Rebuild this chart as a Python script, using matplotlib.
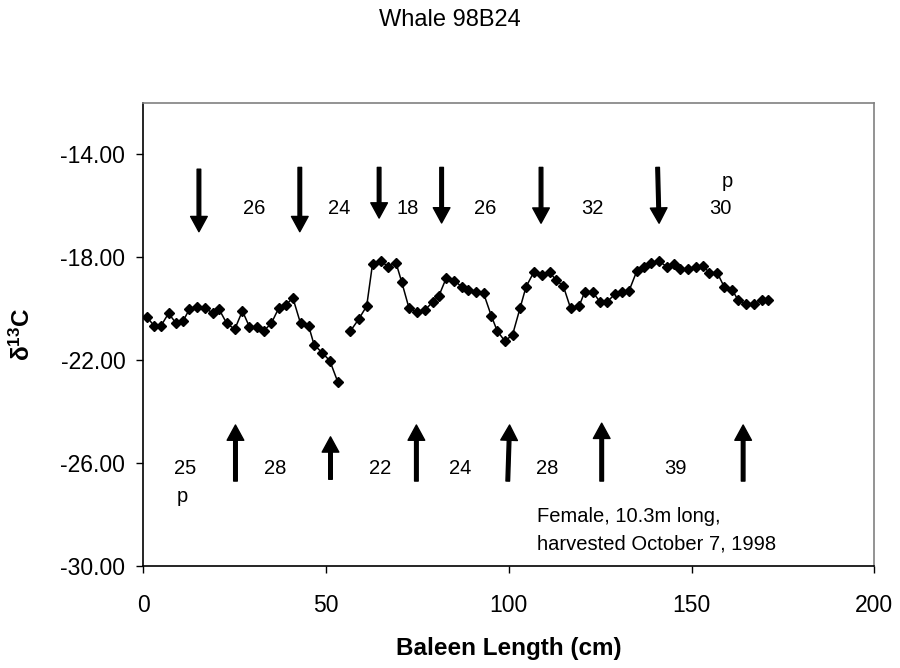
import matplotlib
matplotlib.use("Agg")
import matplotlib.pyplot as plt

plt.rcParams["font.family"] = ["Liberation Sans", "DejaVu Sans"]
plt.rcParams["mathtext.fontset"] = "custom"
plt.rcParams["mathtext.rm"] = "Liberation Sans"
plt.rcParams["mathtext.bf"] = "Liberation Sans:bold"
plt.rcParams["mathtext.it"] = "Liberation Sans:italic"

# baleen sample positions (cm) and delta13C, two runs with a gap near 55 cm
seg1_x = [1.0, 2.9, 4.8, 6.9, 8.9, 10.9, 12.6, 14.8, 16.9, 19.0, 20.7, 22.8, 25.0, 27.1,
          29.0, 31.0, 32.9, 35.0, 37.0, 38.9, 40.9, 43.0, 45.2, 46.7, 48.9, 51.0, 53.2]
seg1_y = [-20.33, -20.66, -20.67, -20.18, -20.56, -20.47, -20.02, -19.93, -19.97, -20.18,
          -20.02, -20.57, -20.80, -20.09, -20.70, -20.72, -20.87, -20.57, -19.99, -19.87,
          -19.58, -20.57, -20.66, -21.40, -21.71, -22.02, -22.85]
seg2_x = [56.6, 58.9, 61.1, 62.7, 64.9, 67.0, 69.1, 70.7, 72.7, 74.9, 77.1, 79.2, 80.8, 82.9,
          85.1, 87.1, 88.8, 90.9, 93.1, 95.2, 96.8, 98.9, 101.0, 103.1, 104.7, 106.8, 109.0,
          111.2, 112.9, 114.9, 116.9, 119.2, 120.8, 122.9, 124.9, 126.9, 129.0, 130.9, 132.9,
          135.0, 137.0, 138.8, 141.1, 143.2, 145.2, 146.8, 148.9, 151.1, 153.2, 154.8, 157.0,
          158.9, 161.1, 162.7, 164.9, 167.1, 169.2, 171.0]
seg2_y = [-20.88, -20.41, -19.90, -18.26, -18.14, -18.37, -18.21, -18.97, -19.99, -20.13,
          -20.05, -19.73, -19.52, -18.80, -18.91, -19.15, -19.29, -19.34, -19.41, -20.28,
          -20.86, -21.26, -21.02, -19.96, -19.15, -18.59, -18.69, -18.59, -18.89, -19.12,
          -19.99, -19.90, -19.34, -19.34, -19.73, -19.73, -19.44, -19.34, -19.30, -18.54,
          -18.37, -18.21, -18.15, -18.37, -18.28, -18.46, -18.47, -18.37, -18.34, -18.60,
          -18.60, -19.15, -19.27, -19.66, -19.82, -19.82, -19.66, -19.66]

# down arrows (top row): tail x, tip x, tail y, tip y
down_x0 = [15.2, 42.8, 64.5, 81.6, 108.8, 140.7]
down_x1 = [15.2, 42.8, 64.5, 81.6, 108.8, 141.1]
down_y0 = [-14.58, -14.51, -14.51, -14.51, -14.51, -14.51]
down_y1 = [-17.01, -17.01, -16.48, -16.67, -16.68, -16.68]
# up arrows (bottom row)
up_x0 = [25.2, 51.2, 74.7, 99.7, 125.4, 164.1]
up_x1 = [25.2, 51.2, 74.7, 100.2, 125.4, 164.1]
up_y0 = [-26.70, -26.63, -26.70, -26.70, -26.70, -26.70]
up_y1 = [-24.52, -24.98, -24.52, -24.52, -24.45, -24.52]

top_labels = ["26", "24", "18", "26", "32", "30"]
top_lx = [30.3, 53.6, 72.3, 93.5, 122.8, 157.9]
bot_labels = ["25", "28", "22", "24", "28", "39"]
bot_lx = [11.5, 36.0, 64.7, 86.6, 110.5, 145.5]

fig = plt.figure(figsize=(9, 6.68), dpi=100)
ax = fig.add_axes([0.1593, 0.1527, 0.8122, 0.6934])

ax.plot(seg1_x, seg1_y, "-", color="black", lw=1.1, marker="D", ms=5.5)
ax.plot(seg2_x, seg2_y, "-", color="black", lw=1.1, marker="D", ms=5.5)

arrow_kw = dict(facecolor="black", edgecolor="black", width=2.6, headwidth=12,
                headlength=11, shrink=0)
for x0, x1, y0, y1 in zip(down_x0, down_x1, down_y0, down_y1):
    ax.annotate("", xy=(x1, y1), xytext=(x0, y0), arrowprops=arrow_kw)
for x0, x1, y0, y1 in zip(up_x0, up_x1, up_y0, up_y1):
    ax.annotate("", xy=(x1, y1), xytext=(x0, y0), arrowprops=arrow_kw)

for t, x in zip(top_labels, top_lx):
    ax.text(x, -16.10, t, ha="center", va="center", fontsize=14.5)
for t, x in zip(bot_labels, bot_lx):
    ax.text(x, -26.20, t, ha="center", va="center", fontsize=14.5)
ax.text(161.3, -15.06, "p", ha="right", va="center", fontsize=14.5)
ax.text(9.0, -27.31, "p", ha="left", va="center", fontsize=14.5)

ax.text(107.7, -28.08, "Female, 10.3m long,", ha="left", va="center", fontsize=14.5)
ax.text(107.7, -29.15, "harvested October 7, 1998", ha="left", va="center", fontsize=14.5)

ax.set_xlim(0, 200)
ax.set_ylim(-30, -12)
ax.set_xticks([0, 50, 100, 150, 200])
ax.set_yticks([-30, -26, -22, -18, -14])
ax.set_yticklabels([f"{v:.2f}" for v in [-30, -26, -22, -18, -14]])
ax.tick_params(axis="both", direction="out", length=5, width=1, labelsize=16.5)
ax.tick_params(axis="x", pad=15)
ax.tick_params(axis="y", pad=8)

for s in ["top", "right"]:
    ax.spines[s].set_color("#808080")
    ax.spines[s].set_linewidth(1.2)
for s in ["left", "bottom"]:
    ax.spines[s].set_color("black")
    ax.spines[s].set_linewidth(1.2)

ax.set_xlabel("Baleen Length (cm)", fontsize=17.5, fontweight="bold", va="center")
ax.xaxis.set_label_coords(0.5, -0.178)
ax.set_ylabel(r"$\mathbf{\delta^{13}C}$", fontsize=17.5)
ax.yaxis.set_label_coords(-0.149, 0.5)

fig.text(0.5, 1 - 20.5 / 668, "Whale 98B24", ha="center", va="center", fontsize=17)

fig.savefig("out.png", dpi=100)
